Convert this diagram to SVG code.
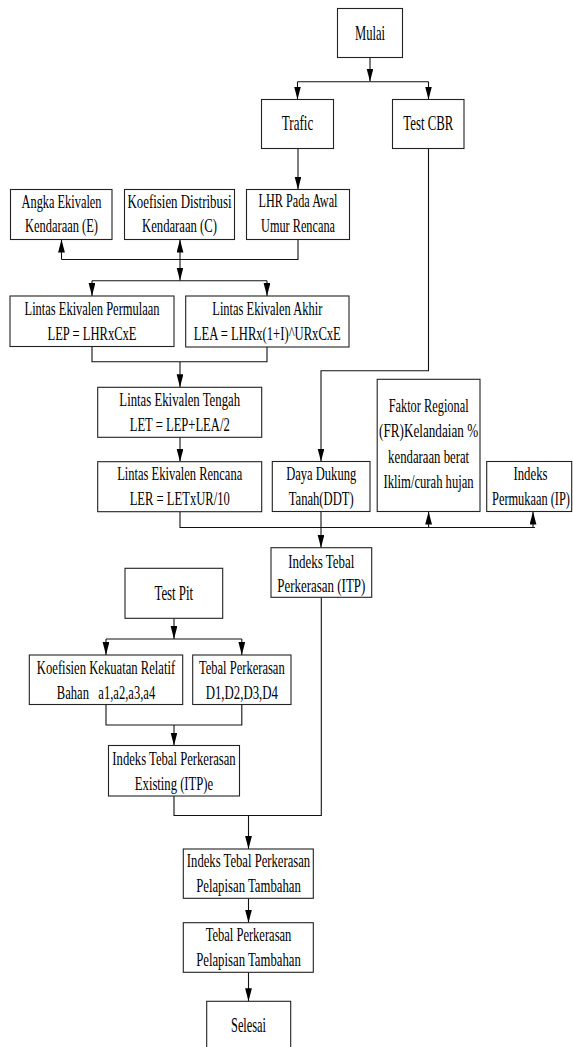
<svg xmlns="http://www.w3.org/2000/svg" width="573" height="1047" viewBox="0 0 573 1047">
<style>
.b{fill:#fff;stroke:#222;stroke-width:1.1}
.t{font-family:"Liberation Serif","Times New Roman",serif;font-size:18.5px;fill:#000;text-anchor:middle}
.s{font-family:"Liberation Serif","Times New Roman",serif;font-size:22px;fill:#000;text-anchor:middle}
.c{fill:none;stroke:#111;stroke-width:1.1}
.a{fill:none;stroke:#111;stroke-width:1.1;marker-end:url(#ar)}
</style>
<defs>
<marker id="ar" markerUnits="userSpaceOnUse" markerWidth="13" markerHeight="7" refX="13" refY="3.4" orient="auto">
<path d="M0,0 L13,3.4 L0,6.8 z" fill="#000"/>
</marker>
</defs>
<rect width="573" height="1047" fill="#fff"/>
<g id="connectors">
<path class="a" d="M370,57.5 V81.5"/>
<path class="c" d="M297.5,81.7 H428.5"/>
<path class="a" d="M297.5,81.7 V99.5"/>
<path class="a" d="M428.5,81.7 V99.5"/>
<path class="a" d="M298,148.5 V189.5"/>
<path class="c" d="M298,239.5 V259.5 H61.5"/>
<path class="a" d="M61.5,259.5 V239.5"/>
<path class="a" d="M180,259.5 V239.5"/>
<path class="a" d="M180,259.5 V280.5"/>
<path class="c" d="M92,280.7 H267"/>
<path class="a" d="M92,280.7 V296"/>
<path class="a" d="M267,280.7 V296"/>
<path class="c" d="M92,346.5 V361.7 H267 V347"/>
<path class="a" d="M180,361.7 V387.3"/>
<path class="a" d="M180,437.3 V461.7"/>
<path class="a" d="M428.5,148.5 V370.7 H321 V461.5"/>
<path class="c" d="M180,511.7 V527.5 H535"/>
<path class="a" d="M428.6,527.5 V511.5"/>
<path class="a" d="M533,527.5 V511.5"/>
<path class="a" d="M321,511.5 V547.7"/>
<path class="a" d="M174,618.3 V639"/>
<path class="c" d="M106,639 H241.8"/>
<path class="a" d="M106,639 V655"/>
<path class="a" d="M241.8,639 V655"/>
<path class="c" d="M106,704.5 V725 H241.8 V704.5"/>
<path class="a" d="M174,725 V745.5"/>
<path class="c" d="M174,796 V815.5 H321.3 V597.3"/>
<path class="a" d="M248.5,815.5 V849"/>
<path class="a" d="M248.5,898.3 V922.7"/>
<path class="a" d="M248.5,972.3 V1001.3"/>
</g>
<g id="mulai"><rect class="b" x="337.5" y="8.5" width="65" height="49"/><text class="s" transform="translate(370,39.5) scale(0.6,1)" textLength="50" lengthAdjust="spacingAndGlyphs">Mulai</text></g>
<g id="trafic"><rect class="b" x="261.5" y="99.5" width="72" height="49"/><text class="s" transform="translate(297.5,130) scale(0.6,1)" textLength="52.5" lengthAdjust="spacingAndGlyphs">Trafic</text></g>
<g id="testcbr"><rect class="b" x="392.5" y="99.5" width="71.5" height="49"/><text class="s" transform="translate(428.3,130) scale(0.6,1)" textLength="83.3" lengthAdjust="spacingAndGlyphs">Test CBR</text></g>
<g id="angka"><rect class="b" x="10.5" y="189.5" width="101.5" height="50"/><text class="t" transform="translate(61.5,207.5) scale(0.68,1)" textLength="117.6" lengthAdjust="spacingAndGlyphs">Angka Ekivalen</text><text class="t" transform="translate(61.5,232) scale(0.68,1)" textLength="107.4" lengthAdjust="spacingAndGlyphs">Kendaraan (E)</text></g>
<g id="koefdist"><rect class="b" x="124.5" y="189.5" width="110" height="50"/><text class="t" transform="translate(179.5,207.5) scale(0.68,1)" textLength="152.9" lengthAdjust="spacingAndGlyphs">Koefisien Distribusi</text><text class="t" transform="translate(179.5,232) scale(0.68,1)" textLength="110.3" lengthAdjust="spacingAndGlyphs">Kendaraan (C)</text></g>
<g id="lhr"><rect class="b" x="246.5" y="189.5" width="103" height="50"/><text class="t" transform="translate(298,207) scale(0.68,1)" textLength="116.2" lengthAdjust="spacingAndGlyphs">LHR Pada Awal</text><text class="t" transform="translate(298,232) scale(0.68,1)" textLength="108.8" lengthAdjust="spacingAndGlyphs">Umur Rencana</text></g>
<g id="lep"><rect class="b" x="10" y="296" width="164" height="50.5"/><text class="t" transform="translate(92,314.5) scale(0.68,1)" textLength="198.5" lengthAdjust="spacingAndGlyphs">Lintas Ekivalen Permulaan</text><text class="t" transform="translate(92,339.5) scale(0.68,1)" textLength="130.9" lengthAdjust="spacingAndGlyphs">LEP = LHRxCxE</text></g>
<g id="lea"><rect class="b" x="185.7" y="296" width="163.3" height="51"/><text class="t" transform="translate(267.3,314.5) scale(0.68,1)" textLength="161.8" lengthAdjust="spacingAndGlyphs">Lintas Ekivalen Akhir</text><text class="t" transform="translate(267.3,339.5) scale(0.68,1)" textLength="216.2" lengthAdjust="spacingAndGlyphs">LEA = LHRx(1+I)^URxCxE</text></g>
<g id="let"><rect class="b" x="97.7" y="387.3" width="164" height="50"/><text class="t" transform="translate(179.7,405.7) scale(0.68,1)" textLength="177.5" lengthAdjust="spacingAndGlyphs">Lintas Ekivalen Tengah</text><text class="t" transform="translate(179.7,430.5) scale(0.68,1)" textLength="147.1" lengthAdjust="spacingAndGlyphs">LET = LEP+LEA/2</text></g>
<g id="ler"><rect class="b" x="97.7" y="461.7" width="164" height="50"/><text class="t" transform="translate(179.7,480) scale(0.68,1)" textLength="183.8" lengthAdjust="spacingAndGlyphs">Lintas Ekivalen Rencana</text><text class="t" transform="translate(179.7,505) scale(0.68,1)" textLength="147.1" lengthAdjust="spacingAndGlyphs">LER = LETxUR/10</text></g>
<g id="ddt"><rect class="b" x="272.3" y="461.5" width="97.7" height="50"/><text class="t" transform="translate(321.2,479.5) scale(0.68,1)" textLength="102.9" lengthAdjust="spacingAndGlyphs">Daya Dukung</text><text class="t" transform="translate(321.2,504.5) scale(0.68,1)" textLength="95.6" lengthAdjust="spacingAndGlyphs">Tanah(DDT)</text></g>
<g id="fr"><rect class="b" x="377.2" y="379.3" width="102.8" height="132.2"/><text class="t" transform="translate(428.6,412) scale(0.68,1)" textLength="117.6" lengthAdjust="spacingAndGlyphs">Faktor Regional</text><text class="t" transform="translate(428.6,437) scale(0.68,1)" textLength="145.6" lengthAdjust="spacingAndGlyphs">(FR)Kelandaian %</text><text class="t" transform="translate(428.6,463) scale(0.68,1)" textLength="119.1" lengthAdjust="spacingAndGlyphs">kendaraan berat</text><text class="t" transform="translate(428.6,488) scale(0.68,1)" textLength="132.4" lengthAdjust="spacingAndGlyphs">Iklim/curah hujan</text></g>
<g id="ip"><rect class="b" x="486.7" y="461.5" width="85" height="50"/><text class="t" transform="translate(530.5,479.5) scale(0.68,1)" textLength="50" lengthAdjust="spacingAndGlyphs">Indeks</text><text class="t" transform="translate(531,504.5) scale(0.68,1)" textLength="114.7" lengthAdjust="spacingAndGlyphs">Permukaan (IP)</text></g>
<g id="itp"><rect class="b" x="271" y="547.7" width="100.7" height="49.6"/><text class="t" transform="translate(321.3,567.5) scale(0.68,1)" textLength="97.1" lengthAdjust="spacingAndGlyphs">Indeks Tebal</text><text class="t" transform="translate(321.3,592) scale(0.68,1)" textLength="129.4" lengthAdjust="spacingAndGlyphs">Perkerasan (ITP)</text></g>
<g id="testpit"><rect class="b" x="125" y="568.3" width="97.7" height="50"/><text class="s" transform="translate(173.8,600) scale(0.6,1)" textLength="64.5" lengthAdjust="spacingAndGlyphs">Test Pit</text></g>
<g id="koefkek"><rect class="b" x="29.3" y="655" width="153.4" height="49.5"/><text class="t" transform="translate(106,674) scale(0.68,1)" textLength="203.4" lengthAdjust="spacingAndGlyphs">Koefisien Kekuatan Relatif</text><text class="t" transform="translate(106,699) scale(0.68,1)" textLength="144.6" lengthAdjust="spacingAndGlyphs" xml:space="preserve">Bahan   a1,a2,a3,a4</text></g>
<g id="tebal"><rect class="b" x="192.7" y="655" width="98.3" height="49.5"/><text class="t" transform="translate(241.8,674) scale(0.68,1)" textLength="126" lengthAdjust="spacingAndGlyphs">Tebal Perkerasan</text><text class="t" transform="translate(241.8,699) scale(0.68,1)" textLength="106.3" lengthAdjust="spacingAndGlyphs">D1,D2,D3,D4</text></g>
<g id="itpe"><rect class="b" x="108.5" y="745.5" width="131" height="50.5"/><text class="t" transform="translate(174,764.5) scale(0.68,1)" textLength="181.3" lengthAdjust="spacingAndGlyphs">Indeks Tebal Perkerasan</text><text class="t" transform="translate(174,789.5) scale(0.68,1)" textLength="115.1" lengthAdjust="spacingAndGlyphs">Existing (ITP)e</text></g>
<g id="itpp"><rect class="b" x="183.3" y="849" width="130" height="49.3"/><text class="t" transform="translate(248.5,867) scale(0.68,1)" textLength="181.3" lengthAdjust="spacingAndGlyphs">Indeks Tebal Perkerasan</text><text class="t" transform="translate(248.5,892) scale(0.68,1)" textLength="154" lengthAdjust="spacingAndGlyphs">Pelapisan Tambahan</text></g>
<g id="tebalp"><rect class="b" x="183.3" y="922.7" width="130" height="49.6"/><text class="t" transform="translate(248.5,941) scale(0.68,1)" textLength="126" lengthAdjust="spacingAndGlyphs">Tebal Perkerasan</text><text class="t" transform="translate(248.5,966) scale(0.68,1)" textLength="154" lengthAdjust="spacingAndGlyphs">Pelapisan Tambahan</text></g>
<g id="selesai"><rect class="b" x="206.7" y="1001.3" width="84" height="50"/><text class="s" transform="translate(248.5,1032) scale(0.6,1)" textLength="58.3" lengthAdjust="spacingAndGlyphs">Selesai</text></g>
</svg>
